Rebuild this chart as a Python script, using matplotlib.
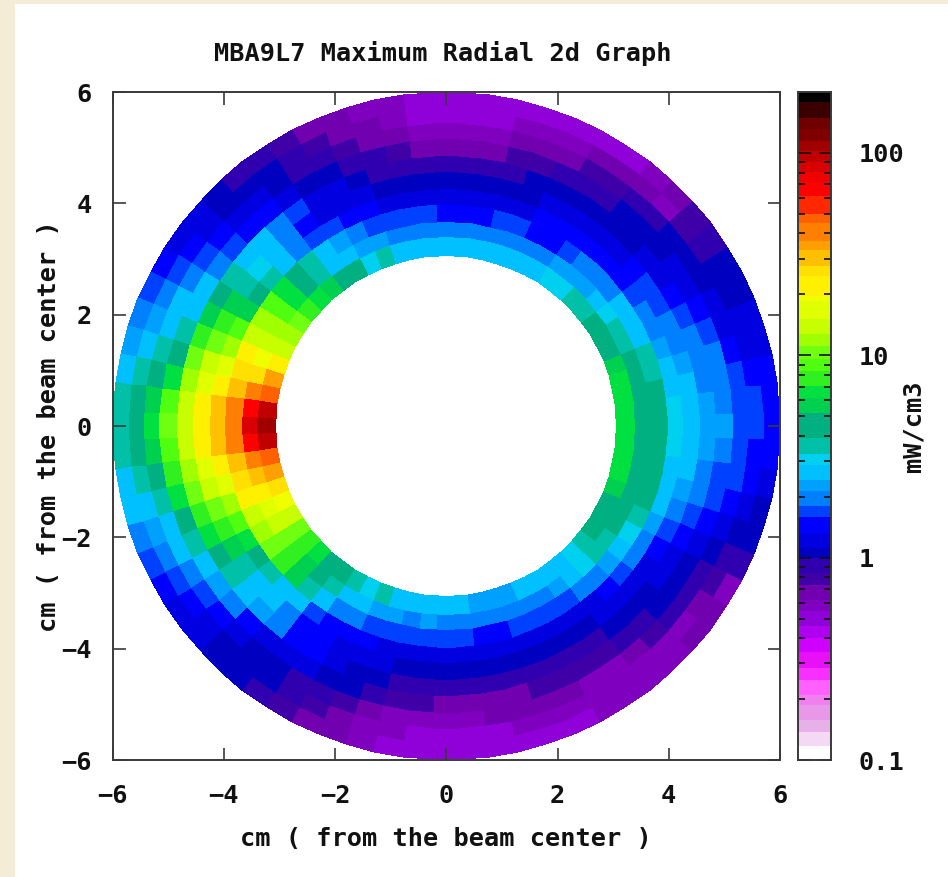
import numpy as np
import matplotlib
matplotlib.use("Agg")
import matplotlib.pyplot as plt
from matplotlib.colors import ListedColormap, BoundaryNorm
from matplotlib.patches import Rectangle
from matplotlib.ticker import LogLocator, NullFormatter, FixedLocator, FixedFormatter

title = "MBA9L7 Maximum Radial 2d Graph"
xlabel = "cm ( from the beam center )"
ylabel = "cm ( from the beam center )"
cbar_label = "mW/cm3"
axis_ticks = [-6, -4, -2, 0, 2, 4, 6]
cbar_ticks = [0.1, 1, 10, 100]
cbar_ticklabels = ["0.1", "1", "10", "100"]

r_edges = [3.06, 3.40, 3.67, 3.99, 4.26, 4.56, 4.85, 5.16, 5.44, 5.71, 5.99]
theta_step = 5.0

# Power density by ring (inner to outer), sectors centred on 0, 5, ... 355 deg
ring1 = [6.6,6.6,6.6,6.6,5.6,5.0,4.5,4.5,3.55,3.55,3.05,3.05,2.65,2.65,2.45,2.45,2.45,2.45,
         2.65,2.65,2.65,2.65,3.55,3.05,4.0,4.5,5.6,6.6,7.7,10,12,14,22,35,47,95,
         107,95,47,35,26,19,14,10,7.7,6.6,5.0,4.5,3.55,3.05,3.55,2.85,2.85,2.85,
         2.45,2.45,2.28,2.28,2.28,2.45,2.45,2.65,2.85,3.05,3.55,4.5,4.5,5.0,5.6,6.6,6.6,6.6]
ring2 = [4.8,4.8,4.8,4.8,4.0,3.55,3.3,3.05,2.65,2.28,2.28,2.28,2.1,2.1,2.0,2.0,2.0,2.0,
         2.0,2.0,2.1,2.1,2.28,2.28,2.45,2.85,3.55,4.5,6.6,8.9,11.9,15,19,26,41,66,
         85,66,41,30,22,17,13.8,10,7.7,5.6,4.5,3.55,2.85,2.45,2.28,2.28,2.1,2.28,
         1.95,1.95,1.95,1.8,1.95,1.95,1.95,2.28,2.65,3.05,3.55,3.55,4.0,4.0,4.8,4.8,4.8,4.8]
ring3 = [4.0,4.0,4.0,3.55,3.3,2.85,2.65,2.45,2.1,1.95,1.8,1.69,1.45,1.45,1.69,1.69,1.45,1.45,
         1.45,1.69,1.69,1.69,1.69,1.95,2.28,2.65,3.3,4.5,6.6,8.9,11.9,15,20,26,30,41,
         41,41,30,26,20,15,12,10,7.7,5.6,3.55,2.65,2.1,1.8,1.69,1.69,1.69,1.69,
         1.69,1.69,1.45,1.45,1.69,1.69,1.69,1.69,1.95,1.95,2.28,2.65,3.05,3.55,4.0,4.0,4.0,4.0]
ring4 = [3.05,3.05,2.85,2.45,2.28,2.1,1.8,1.69,1.45,1.45,1.45,1.45,1.45,1.45,1.3,1.3,1.22,1.22,
         1.22,1.22,1.22,1.3,1.45,1.45,1.69,1.69,2.1,2.85,3.3,4.0,6,9,12,16,22,28,
         30,28,22,16,12,9,6.6,4.5,3.55,2.85,2.45,1.75,1.45,1.45,1.45,1.3,1.22,1.22,
         1.3,1.3,1.3,1.3,1.3,1.3,1.22,1.22,1.3,1.45,1.69,1.95,2.1,2.28,2.45,2.65,2.85,3.05]
ring5 = [2.85,2.65,2.45,2.28,2.1,1.95,1.69,1.69,1.45,1.3,1.22,1.22,1.22,1.22,1.06,1.06,1.06,1.06,
         1.06,1.06,1.06,1.06,1.22,1.22,1.3,1.45,1.95,2.45,3.05,3.55,5.6,7.7,10,13.8,17,20,
         20,20,17,13.8,10,7.7,5.6,3.55,2.85,2.45,1.95,1.45,1.45,1.3,1.22,1.22,1.1,1.06,
         1.06,1.06,1.06,1.06,1.1,1.06,1.06,1.06,1.22,1.22,1.22,1.3,1.45,1.69,1.95,2.28,2.45,2.65]
ring6 = [2.28,2.28,2.1,1.95,1.8,1.69,1.45,1.22,1.22,1.06,1.06,1.06,1.06,1.06,1.0,0.91,0.91,0.91,
         0.91,0.91,0.91,0.91,1.06,1.22,1.3,1.69,1.95,2.45,2.85,3.55,4.5,5.6,7.7,10,12,13.8,
         14,14,12,10,7.7,6.6,4.5,3.55,2.85,2.28,1.95,1.45,1.45,1.22,1.06,1.06,0.91,0.91,
         0.91,0.91,0.91,0.91,0.91,0.91,0.91,0.91,1.06,1.06,1.06,1.22,1.22,1.45,1.69,1.95,2.1,2.28]
ring7 = [2.28,1.95,1.95,1.8,1.69,1.45,1.22,1.22,1.06,1.06,1.0,0.91,0.91,0.85,0.79,0.79,0.68,0.68,
         0.68,0.68,0.79,0.85,0.91,1.0,1.06,1.3,1.45,1.45,1.69,1.95,2.45,2.85,3.55,4.5,6.6,8.9,
         10,8.9,7.7,6.6,4.5,3.55,2.65,2.28,1.95,1.45,1.3,1.22,1.22,1.06,1.0,0.91,0.79,0.79,
         0.68,0.68,0.68,0.68,0.79,0.79,0.79,0.79,0.91,0.91,1.06,1.06,1.06,1.22,1.45,1.69,1.69,1.95]
ring8 = [1.75,1.69,1.69,1.45,1.3,1.22,1.06,1.06,1.06,0.85,0.85,0.79,0.79,0.68,0.68,0.68,0.58,0.58,
         0.58,0.58,0.68,0.68,0.79,0.85,0.91,1.06,1.22,1.22,1.45,1.69,1.95,2.45,2.85,3.3,4.5,5.6,
         6.6,5.6,4.5,3.3,2.85,2.45,2.1,1.69,1.45,1.22,1.06,1.06,0.91,0.85,0.79,0.68,0.58,0.58,
         0.58,0.58,0.65,0.65,0.65,0.65,0.58,0.58,0.68,0.79,0.85,0.91,0.91,1.06,1.22,1.45,1.69,1.69]
ring9 = [1.69,1.69,1.45,1.22,1.22,1.06,1.06,0.91,0.79,0.58,0.68,0.68,0.68,0.58,0.55,0.55,0.5,0.5,
         0.5,0.5,0.58,0.65,0.65,0.79,0.91,1.06,1.06,1.06,1.22,1.45,1.69,1.95,2.28,2.65,3.55,4.5,
         4.5,4.0,3.3,2.65,2.28,1.95,1.69,1.45,1.22,1.06,1.06,1.06,0.91,0.79,0.65,0.58,0.58,0.5,
         0.5,0.5,0.5,0.55,0.58,0.58,0.58,0.58,0.58,0.58,0.58,0.68,0.79,0.91,1.06,1.22,1.45,1.45]
ring10 = [1.45,1.45,1.45,1.22,1.22,1.06,1.06,0.91,0.79,0.68,0.58,0.5,0.5,0.5,0.5,0.5,0.5,0.5,
          0.5,0.5,0.55,0.58,0.65,0.68,0.79,0.85,0.91,1.06,1.22,1.22,1.45,1.69,1.95,2.28,2.65,3.3,
          3.3,3.3,2.65,2.45,1.95,1.69,1.45,1.22,1.22,1.06,1.06,0.91,0.79,0.68,0.65,0.58,0.5,0.5,
          0.5,0.5,0.5,0.5,0.5,0.5,0.55,0.58,0.58,0.58,0.65,0.72,0.58,0.91,1.06,1.06,1.22,1.45]
rings = [ring1, ring2, ring3, ring4, ring5, ring6, ring7, ring8, ring9, ring10]

# Palette bands: log10 value edges and one colour per band
band_log_edges = [-1,-0.931,-0.860,-0.802,-0.728,-0.678,-0.604,-0.546,-0.464,-0.398,-0.340,-0.266,-0.208,
                  -0.134,-0.076,0,0.048,0.122,0.201,0.254,0.328,0.386,0.460,0.510,0.592,0.716,0.790,0.848,
                  0.922,0.980,1.046,1.104,1.178,1.269,1.294,1.393,1.439,1.521,1.566,1.653,1.698,1.786,
                  1.855,1.904,1.954,2.007,2.061,2.119,2.172,2.251,2.301]
band_colors = ["#ffffff","#f4d8f4","#e8b0e8","#e898e8","#f080f0","#ff60ff","#f830ff","#e810f8","#d000ff",
               "#b000f0","#9000d8","#8000c0","#7000b0","#4000a8","#3000b0","#0000c0","#0000e0","#0000ff",
               "#0040ff","#0080ff","#00a0ff","#00c0ff","#00d0f0","#00c0a8","#00b080","#00d050","#00e040",
               "#30f020","#50ff10","#70ff10","#a0ff00","#c8ff00","#e0ff00","#f0ff00","#fff000","#ffe000",
               "#ffc000","#ffa000","#ff8000","#ff6000","#ff2800","#ff0000","#f00000","#d80000","#c00000",
               "#a00000","#800000","#700000","#3a0000","#000000"]

W, H = 948, 877
FONT = "DejaVu Sans Mono"
FS = 18.2
INK = "#111111"
EDGE = "#3a3a3a"
plt.rcParams["font.family"] = FONT
plt.rcParams["font.weight"] = "bold"

fig = plt.figure(figsize=(W / 100, H / 100), dpi=100, facecolor="#f4ecd6")
fig.add_artist(Rectangle((15 / W, 0), 1 - 15 / W, 1 - 4 / H, transform=fig.transFigure,
                         facecolor="white", edgecolor="none", zorder=-10))

def box(l, t, r, b):
    return [l / W, 1 - b / H, (r - l) / W, (b - t) / H]

ax = fig.add_axes(box(112.5, 92, 780, 760))
ax.patch.set_alpha(0)
cax = fig.add_axes(box(798, 92, 831, 760))

values = np.array(rings)
theta = np.radians(np.arange(values.shape[1] + 1) * theta_step - theta_step / 2)
R, T = np.meshgrid(r_edges, theta, indexing="ij")
X, Y = R * np.cos(T), R * np.sin(T)

levels = 10.0 ** np.array(band_log_edges)
cmap = ListedColormap(band_colors)
norm = BoundaryNorm(levels, cmap.N)
ax.pcolormesh(X, Y, values, cmap=cmap, norm=norm, shading="flat", antialiased=False, linewidth=0)

ax.set_xlim(-6, 6)
ax.set_ylim(-6, 6)
ax.set_xticks(axis_ticks)
ax.set_yticks(axis_ticks)
ax.tick_params(which="major", direction="in", top=True, right=True, length=9, width=1.2,
               color=EDGE, labelsize=FS, labelcolor=INK, pad=17)
ax.tick_params(axis="y", pad=15)
for s in ax.spines.values():
    s.set_linewidth(1.4)
    s.set_color(EDGE)
ax.set_title(title, fontsize=FS, color=INK, fontweight="bold", pad=22, x=0.4955)
ax.set_xlabel(xlabel, fontsize=FS, color=INK, fontweight="bold", labelpad=14)
ax.set_ylabel(ylabel, fontsize=FS, color=INK, fontweight="bold", labelpad=0)

mids = 10.0 ** ((np.array(band_log_edges[:-1]) + np.array(band_log_edges[1:])) / 2)
cax.pcolormesh([0, 1], levels, mids[:, None], cmap=cmap, norm=norm, shading="flat",
               antialiased=False, linewidth=0)
cax.set_yscale("log")
cax.set_ylim(levels[0], levels[-1])
cax.set_xlim(0, 1)
cax.set_xticks([])
cax.yaxis.set_major_locator(FixedLocator(cbar_ticks))
cax.yaxis.set_major_formatter(FixedFormatter(cbar_ticklabels))
cax.yaxis.set_minor_locator(LogLocator(base=10, subs=range(2, 10), numticks=12))
cax.yaxis.set_minor_formatter(NullFormatter())
cax.yaxis.tick_right()
cax.tick_params(which="major", axis="y", direction="in", left=True, right=True, length=9, width=1.2,
                color="#111111", labelsize=FS, labelcolor=INK, pad=20)
cax.tick_params(which="minor", axis="y", direction="in", left=True, right=True, length=5, width=1.2,
                color="#111111")
for s in cax.spines.values():
    s.set_linewidth(1.4)
    s.set_color(EDGE)
for lab in cax.get_yticklabels():
    lab.set_fontweight("bold")
cax.yaxis.set_label_position("right")
cax.set_ylabel(cbar_label, fontsize=FS, color=INK, fontweight="bold", labelpad=-2, rotation=90)

fig.savefig("out.png", dpi=100, facecolor=fig.get_facecolor())
